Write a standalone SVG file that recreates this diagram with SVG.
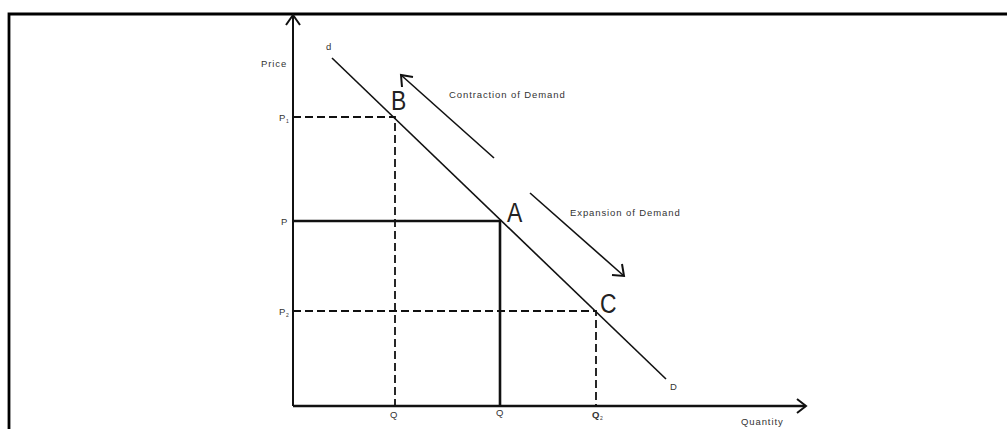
<svg xmlns="http://www.w3.org/2000/svg" width="1007" height="429" viewBox="0 0 1007 429">
<style>
.ax{stroke:#111;stroke-width:2;fill:none}
.thick{stroke:#111;stroke-width:2.6;fill:none}
.dash{stroke:#111;stroke-width:1.8;stroke-dasharray:8,4;fill:none}
.ln{stroke:#111;stroke-width:1.6;fill:none}
.head{stroke:#111;stroke-width:2;fill:none;stroke-linejoin:miter}
.lbl{font-family:"Liberation Sans",Arial,sans-serif;font-size:9.5px;fill:#333;letter-spacing:0.9px}
.sub{font-family:"Liberation Sans",Arial,sans-serif;font-size:5px;fill:#333}
.big{font-family:"Liberation Sans",Arial,sans-serif;font-size:27px;fill:#222}
</style>
<rect width="1007" height="429" fill="#fff"/>
<g id="frame">
<path d="M9,429 V14 H1007" stroke="#000" stroke-width="2.8" fill="none"/>
</g>
<g id="axes">
<path class="ax" d="M293,406 V15"/>
<path class="head" d="M286,25 L293,15 L300,25"/>
<path class="thick" d="M293,406 H805"/>
<path class="head" d="M797,399 L806,406 L797,413"/>
<text class="lbl" x="261" y="67">Price</text>
<text class="lbl" x="741" y="425">Quantity</text>
</g>
<g id="connectors">
<path class="dash" d="M293,117 H395 V406"/>
<path class="thick" d="M293,221 H500 V406"/>
<path class="dash" d="M293,311 H596 V406"/>
<path class="ln" d="M332,58 L666,379"/>
<path class="ln" d="M494,158 L401,75"/>
<path class="head" d="M402,87 L401,75 L413,77"/>
<path class="ln" d="M530,193 L624,276"/>
<path class="head" d="M612,275 L624,276 L622,264"/>
</g>
<g id="demand-labels">
<text class="lbl" x="326" y="50">d</text>
<text class="lbl" x="670" y="390">D</text>
</g>
<g id="point-B">
<text class="big" x="391" y="110" transform="translate(391 110) scale(0.85 1) translate(-391 -110)">B</text>
<text class="lbl" x="279" y="121">P</text><text class="sub" x="286" y="123">1</text>
<text class="lbl" x="390" y="418">Q</text>
</g>
<g id="point-A">
<text class="big" x="507" y="222" transform="translate(507 222) scale(0.85 1) translate(-507 -222)">A</text>
<text class="lbl" x="281" y="225">P</text>
<text class="lbl" x="496" y="416">Q</text>
</g>
<g id="point-C">
<text class="big" x="600" y="313" transform="translate(600 313) scale(0.85 1) translate(-600 -313)">C</text>
<text class="lbl" x="279" y="315">P</text><text class="sub" x="286" y="317">2</text>
<text class="lbl" x="592" y="418" font-weight="bold">Q</text><text class="sub" x="600" y="420">2</text>
</g>
<g id="annotations">
<text class="lbl" x="449" y="98">Contraction of Demand</text>
<text class="lbl" x="570" y="216">Expansion of Demand</text>
</g>
</svg>
